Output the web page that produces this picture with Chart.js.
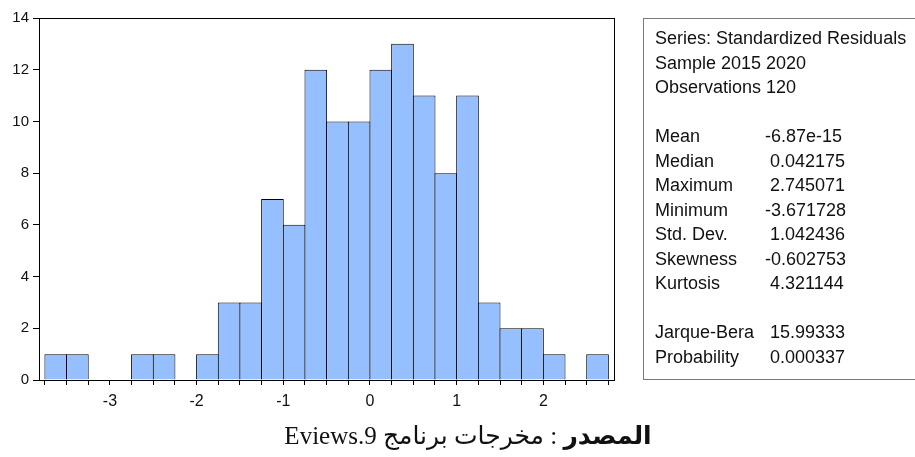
<!DOCTYPE html>
<html>
<head>
<meta charset="utf-8">
<script src="https://cdn.jsdelivr.net/npm/chart.js@4.4.1/dist/chart.umd.min.js"></script>
<style>
  html, body { margin: 0; padding: 0; background: #fff; overflow: hidden; }
  #wrap { position: relative; width: 915px; height: 457px; overflow: hidden; }
  #c { position: absolute; left: 0; top: 0; }
  #stats {
    position: absolute; left: 643px; top: 18px; width: 320px; height: 362px;
    border: 1px solid #7a7a7a; box-sizing: border-box;
    font-family: "Liberation Sans", Arial, sans-serif; font-size: 18px; color: #111;
  }
  #stats .row { position: absolute; left: 11px; white-space: pre; line-height: 20px; }
  #stats .val { position: absolute; left: 121px; white-space: pre; line-height: 20px; }
  #caption {
    position: absolute; left: 0; width: 936px; top: 420px; text-align: center;
    font-family: "Liberation Serif", "DejaVu Serif", "DejaVu Sans", serif; font-size: 25px; color: #111;
    line-height: 32px;
  }
</style>
</head>
<body>
<div id="wrap">
  <canvas id="c" width="915" height="457"></canvas>
  <div id="stats"></div>
  <div id="caption" dir="rtl"><b>المصدر</b> : مخرجات برنامج Eviews.9</div>
</div>
<script>
// ---- data ----
const binCenters = [-3.625,-3.375,-3.125,-2.875,-2.625,-2.375,-2.125,-1.875,-1.625,-1.375,-1.125,-0.875,-0.625,-0.375,-0.125,0.125,0.375,0.625,0.875,1.125,1.375,1.625,1.875,2.125,2.375,2.625];
const counts     = [1,1,0,0,1,1,0,1,3,3,7,6,12,10,10,12,13,11,8,11,3,2,2,1,0,1];
const xTickLabels = [-3,-2,-1,0,1,2];
const yTickValues = [0,2,4,6,8,10,12,14];
const headerLines = ["Series: Standardized Residuals","Sample 2015 2020","Observations 120"];
const statNames  = ["Mean","Median","Maximum","Minimum","Std. Dev.","Skewness","Kurtosis"];
const statValues = ["-6.87e-15"," 0.042175"," 2.745071","-3.671728"," 1.042436","-0.602753"," 4.321144"];
const testNames  = ["Jarque-Bera","Probability"];
const testValues = [" 15.99333"," 0.000337"];

// ---- stats box ----
const box = document.getElementById('stats');
function addRow(cls, text, top) {
  const d = document.createElement('div');
  d.className = cls; d.textContent = text; d.style.top = top + 'px';
  box.appendChild(d);
}
const lineH = 24.5;
const first = 9;
headerLines.forEach((t, i) => addRow('row', t, first + i * lineH));
statNames.forEach((t, i) => {
  addRow('row', t, first + (i + 4) * lineH);
  addRow('val', statValues[i], first + (i + 4) * lineH);
});
testNames.forEach((t, i) => {
  addRow('row', t, first + (i + 12) * lineH);
  addRow('val', testValues[i], first + (i + 12) * lineH);
});

// ---- chart ----
const framePlugin = {
  id: 'frame',
  afterDraw(chart) {
    const a = chart.chartArea, ctx = chart.ctx;
    ctx.save();
    ctx.strokeStyle = '#000';
    ctx.lineWidth = 1;
    ctx.strokeRect(Math.round(a.left) + 0.5, Math.round(a.top) + 0.5,
                   Math.round(a.right - a.left), Math.round(a.bottom - a.top));
    ctx.restore();
  }
};

new Chart(document.getElementById('c'), {
  type: 'bar',
  data: {
    datasets: [{
      data: binCenters.map((x, i) => ({ x: x, y: counts[i] })),
      backgroundColor: 'rgb(150,191,255)',
      borderColor: '#000',
      borderWidth: 1,
      borderSkipped: 'start',
      barPercentage: 1.045,
      categoryPercentage: 1.0
    }]
  },
  options: {
    responsive: false,
    animation: false,
    events: [],
    layout: { padding: { left: 0, top: 18, right: 301, bottom: 37 } },
    plugins: { legend: { display: false }, tooltip: { enabled: false } },
    scales: {
      x: {
        type: 'linear',
        min: -3.818,
        max: 2.815,
        offset: false,
        grid: { display: true, offset: false, drawOnChartArea: false, drawTicks: true, tickLength: 5, color: '#000', lineWidth: 1 },
        border: { display: true, color: '#000', width: 1 },
        ticks: {
          stepSize: 0.25,
          includeBounds: false,
          autoSkip: false,
          maxRotation: 0,
          padding: 7,
          color: '#111',
          font: { family: '"Liberation Sans", Arial, sans-serif', size: 16 },
          callback: (v) => xTickLabels.includes(v) ? String(v) : ''
        },
        afterFit: (s) => { s.height = 40; }
      },
      y: {
        min: 0,
        max: 14,
        grid: { display: true, drawOnChartArea: false, drawTicks: true, tickLength: 6, color: '#000', lineWidth: 1 },
        border: { display: true, color: '#000', width: 1 },
        ticks: {
          stepSize: 2,
          padding: 4,
          color: '#111',
          font: { family: '"Liberation Sans", Arial, sans-serif', size: 15 },
          callback: (v) => yTickValues.includes(v) ? String(v) : ''
        },
        afterFit: (s) => { s.width = 39; }
      }
    }
  },
  plugins: [framePlugin]
});
</script>
</body>
</html>
